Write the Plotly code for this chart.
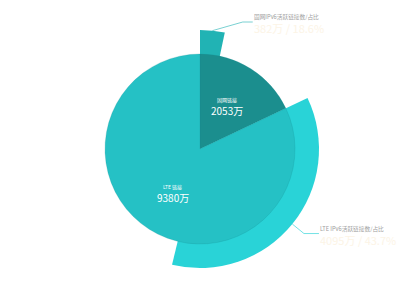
import math
import plotly.graph_objects as go

# ---------------- data ----------------
inner_labels = ["固网链接", "LTE 链接"]
inner_values = [2053, 9380]            # 万
active_titles = ["固网IPv6活跃链接数/占比", "LTE IPv6活跃链接数/占比"]
active_values = [382, 4095]            # 万
active_pct = [18.6, 43.7]              # %

# ---------------- style ----------------
W, H = 400, 300
CX, CY = 200, 149
R_IN, R_OUT = 95, 119
inner_colors = ["#1b8e8e", "#25c1c5"]
outer_colors = ["#21b3b4", "#29d3d7"]
line_colors = ["rgba(33,179,180,0.6)", "rgba(41,211,215,0.65)"]
FONT = "Noto Sans CJK SC, Noto Sans, sans-serif"
L1 = 15
L2 = [10, 15]
TOP_LIMIT = 22
LABEL_R = 0.54


def px(x):
    return x / W


def py(y):
    return 1 - y / H


def domain(r):
    return dict(x=[px(CX - r), px(CX + r)], y=[py(CY + r), py(CY - r)])


total = sum(inner_values)

# outer ring: active part of each inner slice followed by a transparent remainder
outer_vals, outer_cols = [], []
for v, a, c in zip(inner_values, active_values, outer_colors):
    outer_vals += [a, v - a]
    outer_cols += [c, "rgba(0,0,0,0)"]

fig = go.Figure()
fig.add_trace(go.Pie(
    values=outer_vals, sort=False, direction="clockwise", rotation=0,
    marker=dict(colors=outer_cols, line=dict(width=0)),
    textinfo="none", hoverinfo="skip", showlegend=False,
    domain=domain(R_OUT),
))
fig.add_trace(go.Pie(
    values=inner_values, labels=inner_labels, sort=False, direction="clockwise", rotation=0,
    marker=dict(colors=inner_colors, line=dict(width=0.6, color="rgba(20,140,145,0.35)")),
    textinfo="none", hoverinfo="skip", showlegend=False,
    domain=domain(R_IN),
))

annotations, shapes = [], []

# inner labels along each slice's mid angle
start = 0.0
for lab, v in zip(inner_labels, inner_values):
    ang = (start + v / 2) / total * 2 * math.pi
    start += v
    x = CX + R_IN * LABEL_R * math.sin(ang)
    y = CY - R_IN * LABEL_R * math.cos(ang)
    annotations.append(dict(x=px(x), y=py(y - 5.5), xref="paper", yref="paper",
                            text=lab, showarrow=False, xanchor="center", yanchor="middle",
                            font=dict(family=FONT, size=5, color="#ffffff")))
    annotations.append(dict(x=px(x), y=py(y + 5), xref="paper", yref="paper",
                            text=f"{v}万", showarrow=False, xanchor="center", yanchor="middle",
                            font=dict(family=FONT, size=10, color="#ffffff")))

# outer labels with leader lines
start = 0.0
for i, (v, a) in enumerate(zip(inner_values, active_values)):
    ang = (start + a / 2) / total * 2 * math.pi
    start += v
    sx = CX + R_OUT * math.sin(ang)
    sy = CY - R_OUT * math.cos(ang)
    rr = R_OUT + L1
    bx = CX + rr * math.sin(ang)
    by = CY - rr * math.cos(ang)
    if by < TOP_LIMIT:
        by = TOP_LIMIT
        bx = CX + math.sqrt(rr ** 2 - (CY - by) ** 2)
    ex = bx + L2[i]
    shapes.append(dict(type="path", xref="paper", yref="paper",
                       path=f"M {px(sx)},{py(sy)} L {px(bx)},{py(by)} L {px(ex)},{py(by)}",
                       line=dict(color=line_colors[i], width=1)))
    annotations.append(dict(x=px(ex - 1), y=py(by - 5), xref="paper", yref="paper",
                            text=active_titles[i], showarrow=False, xanchor="left", yanchor="middle",
                            font=dict(family=FONT, size=5.7, color="#a0a0a0")))
    annotations.append(dict(x=px(ex - 1), y=py(by + 6), xref="paper", yref="paper",
                            text=f"{a}万 / {active_pct[i]}%", showarrow=False,
                            xanchor="left", yanchor="middle",
                            font=dict(family=FONT, size=11, color="#fcf4e6")))

fig.update_layout(
    width=W, height=H, margin=dict(l=0, r=0, t=0, b=0),
    paper_bgcolor="#ffffff", plot_bgcolor="#ffffff",
    annotations=annotations, shapes=shapes,
)
fig.write_html("out.html", config={"displayModeBar": False})
